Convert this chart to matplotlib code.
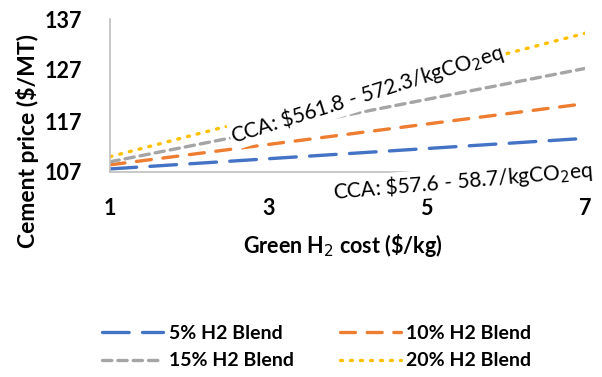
import matplotlib
matplotlib.use("Agg")
import matplotlib.pyplot as plt

plt.rcParams['font.family'] = ['Lato', 'DejaVu Sans']

# data
h2_cost = [1, 4, 7]
blend_5 = [107.6, 110.6, 113.6]
blend_10 = [108.4, 114.4, 120.4]
blend_15 = [109.0, 118.2, 127.3]
blend_20 = [110.0, 122.1, 134.2]
series_labels = ['5% H2 Blend', '10% H2 Blend', '15% H2 Blend', '20% H2 Blend']
x_ticks = [1, 3, 5, 7]
y_ticks = [107, 117, 127, 137]

colors = ['#4472C4', '#ED7D31', '#A5A5A5', '#FFC000']
dashes = [(8.0, 4.0), (4.5, 3.5), (2.8, 1.8), (0.6, 2.4)]

fig = plt.figure(figsize=(6.02, 3.77), dpi=100)
ax = fig.add_axes([110 / 602, 1 - 172 / 377, 475 / 602, 153 / 377])

handles = []
for vals, lab, c, d in zip([blend_5, blend_10, blend_15, blend_20], series_labels, colors, dashes):
    ln, = ax.plot(h2_cost, vals, color=c, lw=2.4, linestyle=(0, d),
                  dash_capstyle='round', label=lab, zorder=2)
    handles.append(ln)

ax.set_xlim(1, 7)
ax.set_ylim(107, 137)
ax.set_xticks(x_ticks)
ax.set_yticks(y_ticks)
ax.tick_params(length=0)
ax.tick_params(axis='x', pad=19)
ax.tick_params(axis='y', pad=20)
for lbl in ax.get_xticklabels() + ax.get_yticklabels():
    lbl.set_fontsize(15.5)
    lbl.set_fontweight('bold')

for side in ['top', 'right']:
    ax.spines[side].set_visible(False)
for side in ['left', 'bottom']:
    ax.spines[side].set_color('#BFBFBF')
    ax.spines[side].set_linewidth(1.2)

ax.set_xlabel('Green H$_2$ cost (\\$/kg)', fontsize=15.5, fontweight='bold')
ax.xaxis.set_label_coords(0.49, -0.39)
ax.set_ylabel('Cement price (\\$/MT)', fontsize=16.5, fontweight='bold')
ax.yaxis.set_label_coords(-0.15, 0.2)

box = dict(facecolor='white', edgecolor='none', pad=1)
ax.text(4.25, 122.3, 'CCA: \\$561.8 - 572.3/kgCO$_2$eq', fontsize=15, rotation=17.4,
        ha='center', va='center', rotation_mode='anchor', bbox=box, zorder=3)
ax.text(5.45, 105.2, 'CCA: \\$57.6 - 58.7/kgCO$_2$eq', fontsize=15, rotation=4.9,
        ha='center', va='center', rotation_mode='anchor', bbox=box, zorder=3,
        clip_on=False)

# row-wise order like the reference legend
order = [0, 2, 1, 3]
fig.legend([handles[i] for i in order], [series_labels[i] for i in order],
           loc='center', bbox_to_anchor=(317 / 602, 1 - 347 / 377), ncol=2,
           frameon=False, prop={'size': 14, 'weight': 'bold'},
           handlelength=3.1, handletextpad=0.3, columnspacing=2.4, labelspacing=0.55)

fig.savefig('out.png', dpi=100)
